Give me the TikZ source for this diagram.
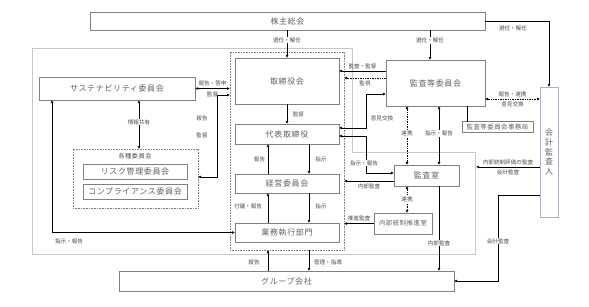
\documentclass[tikz,border=0pt]{standalone}
\usepackage{fontspec}
\setmainfont{Noto Sans CJK JP}
\newfontfamily\boxfont[LetterSpace=8]{Noto Sans CJK JP}
\usetikzlibrary{arrows.meta,positioning,calc}
\definecolor{boxgray}{RGB}{128,128,128}
\definecolor{areagray}{RGB}{200,200,200}
\definecolor{txtgray}{RGB}{96,96,96}
\definecolor{audblue}{RGB}{160,178,206}

\begin{document}
\begin{tikzpicture}[
    x=1pt, y=-1pt,
    every node/.style={inner sep=0pt, outer sep=0pt},
    box/.style={draw=boxgray, line width=0.6pt, fill=white, text=txtgray,
        font=\boxfont\fontsize{8}{9.6}\selectfont},
    smallbox/.style={box, font=\boxfont\fontsize{6.4}{7.5}\selectfont},
    group/.style={draw=boxgray, line width=0.6pt, dash pattern=on 0.7pt off 0.9pt},
    lbl/.style={font=\fontsize{5.6}{6.4}\selectfont, text=black!70, inner sep=0.8pt},
    onl/.style={lbl, fill=white},
    arrow/.style={-{Latex[length=3pt,width=3pt]}, line width=0.8pt},
    both/.style={{Latex[length=3pt,width=3pt]}-{Latex[length=3pt,width=3pt]}, line width=0.8pt},
    dots/.style={dash pattern=on 0.8pt off 0.9pt}
]
\useasboundingbox (0,0) rectangle (589,306);

% ---- frames ----
\draw[areagray, line width=0.6pt] (32,48) -- (352,48) -- (352,152) -- (475,152)
    -- (475,254) -- (32,254) -- cycle;
\node[group, minimum width=114pt, minimum height=198pt] (board) at (287,151) {};
\node[group, minimum width=125pt, minimum height=59pt] (cmte) at (135.5,178.5) {};
\node[lbl, font=\boxfont\fontsize{6.2}{7}\selectfont] (cmtename) at (135,156) {各種委員会};

% ---- boxes ----
\node[box, minimum width=395pt, minimum height=18pt] (gm) at (287.5,21) {株主総会};
\node[box, minimum width=104pt, minimum height=46pt] (bod) at (287,81) {取締役会};
\node[box, minimum width=104pt, minimum height=20pt] (ceo) at (287,134) {代表取締役};
\node[box, minimum width=104pt, minimum height=19pt] (mgmt) at (287,183.5) {経営委員会};
\node[box, minimum width=104pt, minimum height=19pt] (ops) at (287,232.5) {業務執行部門};
\node[box, minimum width=156pt, minimum height=23pt] (sus) at (117,88.5) {サステナビリティ委員会};
\node[box, minimum width=104pt, minimum height=15pt] (risk) at (135,171.5) {リスク管理委員会};
\node[box, minimum width=104pt, minimum height=15pt] (comp) at (135,191.5) {コンプライアンス委員会};
\node[box, minimum width=335pt, minimum height=20pt] (grp) at (286.5,281) {グループ会社};
\node[box, minimum width=99pt, minimum height=46pt] (ac) at (435.5,83) {監査等委員会};
\node[smallbox, minimum width=71pt, minimum height=11pt] (acoff) at (497.5,127) {監査等委員会事務局};
\node[box, draw=audblue, minimum width=18pt, minimum height=130pt, align=center] (auditor)
    at (549,152) {会\\計\\監\\査\\人};
\node[box, minimum width=65pt, minimum height=21pt] (iad) at (426.5,175.5) {監査室};
\node[smallbox, minimum width=58pt, minimum height=21pt] (icd) at (403,223.5) {内部統制推進室};

% ---- columns ----
\coordinate (acin) at (430,0);
\coordinate (up) at (268,0);
\coordinate (dn) at (309,0);
\coordinate (dl) at (407,0);
\coordinate (sl) at (439,0);
\coordinate (iaarea) at (476,167);

% ---- shareholders ----
\draw[arrow] (gm.south -| bod.north) -- (bod.north) node[onl, pos=0.36] (lel1) {選任・解任};
\draw[arrow] (gm.south -| acin) -- (ac.north -| acin) node[onl, pos=0.36] (lel2) {選任・解任};
\draw[arrow] (gm.east) -| (auditor.north);
\node[lbl] (lel3) at (513,28) {選任・解任};

% ---- audit committee ----
\draw[arrow] (ac.west |- 0,71) -- (bod.east |- 0,71) node[lbl, midway, above=1.5pt] (laud) {監査・監督};
\draw[arrow, dots] (ac.west |- 0,78) -- (board.east |- 0,78) node[lbl, midway, below=1.5pt] (lwatch) {監視};
\draw[both] (ac.west |- 0,94) -| (366,128) -- (ceo.east |- 0,128);
\node[lbl] (lop1) at (382,118) {意見交換};
\draw[both] (ceo.east |- 0,136) -| (366,173) -- (iad.west |- 0,173);
\node[onl] (lins1) at (364,163) {指示・報告};
\draw[both, dots] (ac.east |- 0,99) -- (auditor.west |- 0,99)
    node[lbl, midway, above=1.5pt] (lrep) {報告・連携}
    node[lbl, midway, below=1.5pt] (lop2) {意見交換};
\draw[line width=0.8pt] (ac.south -| 467,0) -- (acoff.north -| 467,0);
\draw[both, dots] (ac.south -| dl) -- (iad.north -| dl) node[onl, pos=0.46] (lco1) {連携};
\draw[both] (ac.south -| sl) -- (iad.north -| sl) node[onl, pos=0.46] (lins2) {指示・報告};

% ---- executive line ----
\draw[arrow] (bod.south) -- (ceo.north) node[lbl, midway, right=5pt] (lsup) {監督};
\draw[arrow] (mgmt.north -| up) -- (ceo.south -| up);
\node[lbl] (lrp1) at (259.5,159) {報告};
\draw[arrow] (ceo.south -| dn) -- (mgmt.north -| dn);
\node[lbl] (lin1) at (321,159) {指示};
\draw[arrow] (ops.north -| up) -- (mgmt.south -| up);
\node[lbl] (lrp2) at (248,206) {付議・報告};
\draw[arrow] (mgmt.south -| dn) -- (ops.north -| dn);
\node[lbl] (lin2) at (321,206) {指示};
\draw[arrow] (grp.north -| up) -- (board.south -| up);
\node[lbl] (lrp3) at (254,262) {報告};
\draw[arrow] (board.south -| dn) -- (grp.north -| dn);
\node[lbl] (lmg) at (328,262) {管理・指導};

% ---- committees ----
\draw[both] (sus.east) -- (board.west |- sus.east)
    node[lbl, midway, above=2pt] (lans) {報告・答申}
    node[lbl, midway, below=2pt] (lsup2) {監督};
\draw[both] (board.west |- 0,95) -| (217,177) -- (cmte.east |- 0,177);
\node[lbl] (lrp4) at (202,118) {報告};
\node[lbl] (lsup3) at (202,135) {監督};
\draw[both] (sus.south -| 139,0) -- (cmte.north -| 139,0) node[onl, pos=0.45] (lshare) {情報共有};
\draw[both] (ops.west) -| (sus.south -| 52,0);
\node[lbl] (lins3) at (69,241) {指示・報告};

% ---- internal audit ----
\draw[arrow] (iad.west |- 0,181) -- (board.east |- 0,181) node[lbl, midway, below=1.5pt] (lia1) {内部監査};
\draw[both, dots] (iad.south -| dl) -- (icd.north -| dl) node[onl, midway] (lco2) {連携};
\draw[arrow] (icd.west) -- (board.east |- icd.west) node[lbl, midway, above=1.5pt] (lpush) {推進監査};
\draw[arrow] (iad.south -| sl) -- (grp.north -| sl) node[onl, pos=0.67] (lia2) {内部監査};

% ---- auditor ----
\draw[arrow] (auditor.west |- iaarea) -- (iaarea)
    node[lbl, midway, above=1.5pt] (licr) {内部統制評価の監査}
    node[lbl, midway, below=1.5pt] (lacc1) {会計監査};
\draw[arrow] (auditor.west |- 0,195) -| (498,281) -- (grp.east |- 0,281);
\node[onl] (lacc2) at (498,241) {会計監査};
\end{tikzpicture}
\end{document}
